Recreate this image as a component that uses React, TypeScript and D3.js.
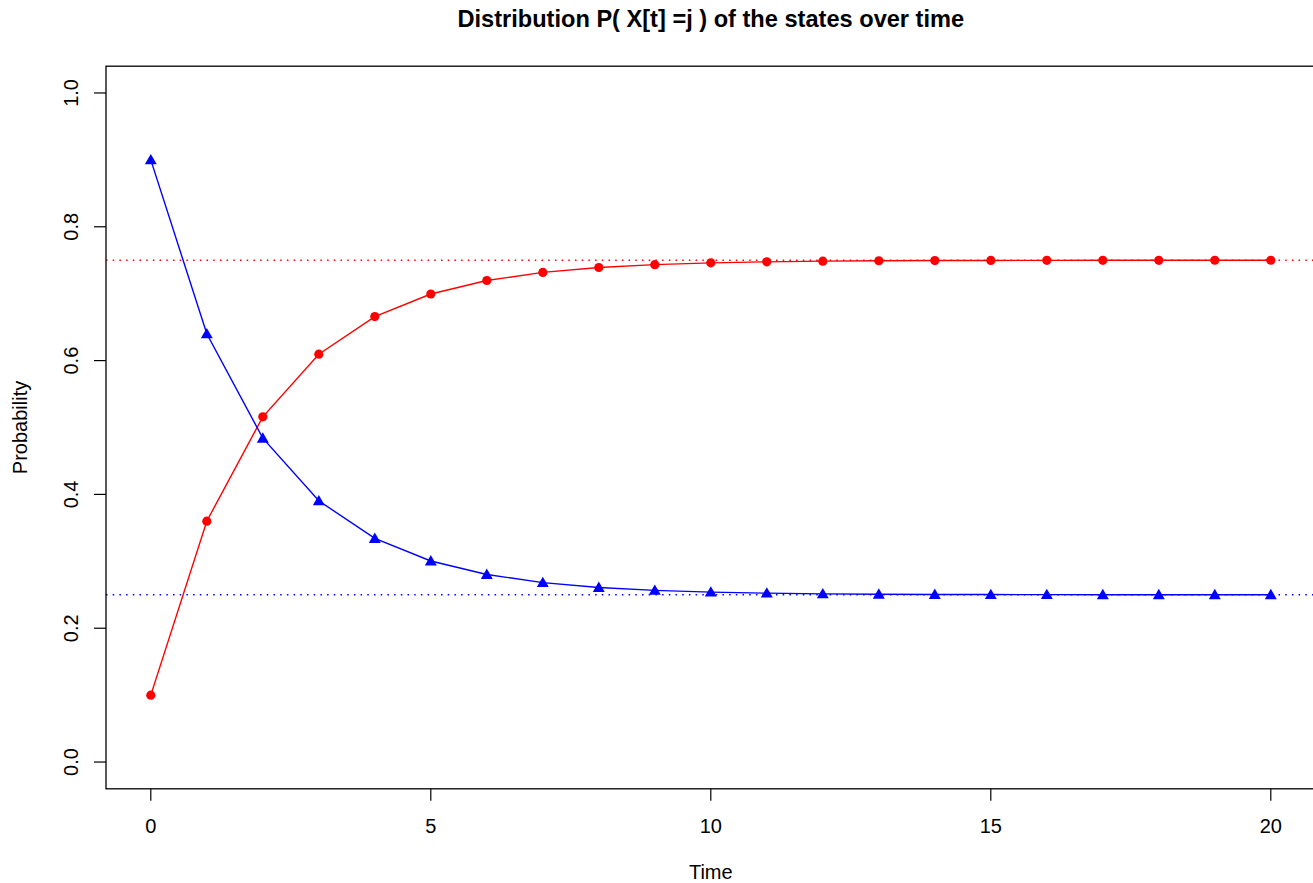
import React from "react";
import * as d3 from "d3";

const times = [0, 1, 2, 3, 4, 5, 6, 7, 8, 9, 10, 11, 12, 13, 14, 15, 16, 17, 18, 19, 20];
const state1 = [0.1, 0.36, 0.516, 0.6096, 0.6658, 0.6995, 0.7197, 0.7318, 0.7391, 0.7434, 0.7461, 0.7476, 0.7486, 0.7492, 0.7495, 0.7497, 0.7498, 0.7499, 0.7499, 0.75, 0.75];
const state2 = [0.9, 0.64, 0.484, 0.3904, 0.3342, 0.3005, 0.2803, 0.2682, 0.2609, 0.2566, 0.2539, 0.2524, 0.2514, 0.2508, 0.2505, 0.2503, 0.2502, 0.2501, 0.2501, 0.25, 0.25];
const stationary = [0.75, 0.25];
const xTicks = [0, 5, 10, 15, 20];
const yTicks = [0, 0.2, 0.4, 0.6, 0.8, 1.0];
const title = "Distribution P( X[t] =j ) of the states over time";

const W = 1313, H = 883;
const left = 106, right = 1315.6, top = 66.2, bottom = 788.8;
const font = "'Liberation Sans', Arial, Helvetica, sans-serif";

export default function App() {
  const x = d3.scaleLinear().domain([-0.8, 20.8]).range([left, right]);
  const y = d3.scaleLinear().domain([-0.04, 1.04]).range([bottom, top]);
  const line = d3.line<number>().x((_, i) => x(times[i])).y((d) => y(d));
  const tri = d3.symbol().type(d3.symbolTriangle).size(62)();
  const colors = ["#ff0000", "#0000ff"];
  return (
    <div style={{ position: "fixed", left: 0, top: 0 }}>
      <svg width={W} height={H} style={{ display: "block", background: "#fff" }}>
        <text x={(left + right) / 2} y={27} textAnchor="middle" fontFamily={font} fontWeight="bold" fontSize={23.6} fill="#000">{title}</text>
        <defs>
          <clipPath id="pc"><rect x={left} y={top} width={right - left} height={bottom - top} /></clipPath>
        </defs>
        <g clipPath="url(#pc)">
          {stationary.map((v, i) => (
            <line key={i} x1={left} x2={right} y1={y(v)} y2={y(v)} stroke={colors[i]} strokeWidth={1.3} strokeDasharray="1.5,5.2" />
          ))}
          <path d={line(state1) || ""} fill="none" stroke={colors[0]} strokeWidth={1.4} />
          <path d={line(state2) || ""} fill="none" stroke={colors[1]} strokeWidth={1.4} />
          {state1.map((v, i) => (
            <circle key={"r" + i} cx={x(times[i])} cy={y(v)} r={4.6} fill={colors[0]} />
          ))}
          {state2.map((v, i) => (
            <path key={"b" + i} d={tri || ""} transform={`translate(${x(times[i])},${y(v) + 1})`} fill={colors[1]} />
          ))}
        </g>
        <rect x={left} y={top} width={right - left} height={bottom - top} fill="none" stroke="#000" strokeWidth={1.3} />
        {xTicks.map((t) => (
          <g key={"x" + t}>
            <line x1={x(t)} x2={x(t)} y1={bottom} y2={bottom + 12} stroke="#000" strokeWidth={1.2} />
            <text x={x(t)} y={bottom + 44} textAnchor="middle" fontFamily={font} fontSize={20} fill="#000">{t}</text>
          </g>
        ))}
        {yTicks.map((t) => (
          <g key={"y" + t}>
            <line x1={left - 12} x2={left} y1={y(t)} y2={y(t)} stroke="#000" strokeWidth={1.2} />
            <text transform={`translate(${left - 28},${y(t)}) rotate(-90)`} textAnchor="middle" fontFamily={font} fontSize={20} fill="#000">{t.toFixed(1)}</text>
          </g>
        ))}
        <text x={(left + right) / 2} y={879} textAnchor="middle" fontFamily={font} fontSize={20} fill="#000">Time</text>
        <text transform={`translate(27,${(top + bottom) / 2}) rotate(-90)`} textAnchor="middle" fontFamily={font} fontSize={20} fill="#000">Probability</text>
      </svg>
    </div>
  );
}
